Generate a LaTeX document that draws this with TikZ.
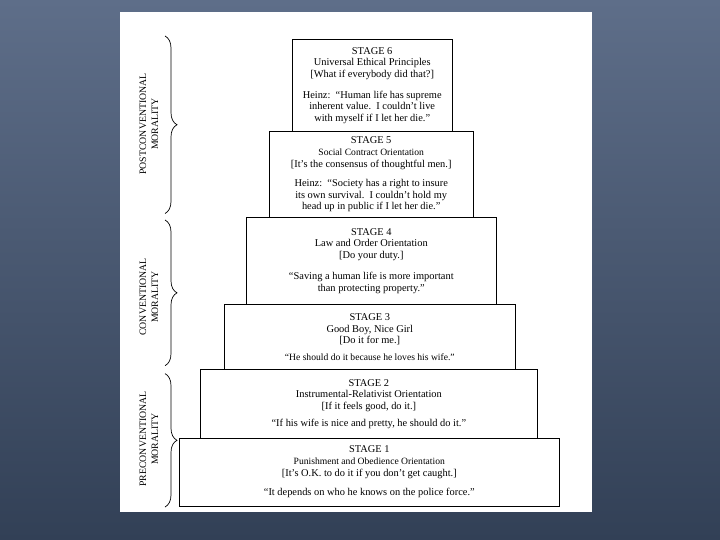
\documentclass[tikz,border=0pt]{standalone}
\usepackage{fontspec}
\setmainfont{Liberation Serif}
\usetikzlibrary{decorations.pathreplacing}
\definecolor{bgtop}{RGB}{94,110,137}
\definecolor{bgbot}{RGB}{50,64,86}
\newcommand{\smallline}{\fontsize{9.6}{11.6}\selectfont}
\begin{document}
\begin{tikzpicture}[x=1pt,y=-1pt,
  stagebox/.style={draw=black, line width=0.9pt, fill=white, align=center, inner sep=0pt,
    font=\fontsize{10.4}{11.6}\selectfont},
  moralbrace/.style={decorate, decoration={brace, amplitude=12pt}, line width=0.7pt},
  morallabel/.style={rotate=90, align=center, font=\fontsize{9.8}{12}\selectfont}]
\useasboundingbox (0,0) rectangle (720,540);
\shade[top color=bgtop, bottom color=bgbot] (0,0) rectangle (720,540);
\fill[white] (120,12) rectangle (592,512);

\node[stagebox, minimum width=159.5pt, minimum height=92pt] (s6) at (372.2,85.5)
  {STAGE 6\\ Universal Ethical Principles\\ {[What if everybody did that?]}\\[9pt]
   Heinz:\ \ “Human life has supreme\\ inherent value.\ \ I couldn’t live\\ with myself if I let her die.”};
\node[stagebox, minimum width=203.5pt, minimum height=86pt] (s5) at (371.2,174.5)
  {STAGE 5\\ {\smallline Social Contract Orientation}\\ {[It’s the consensus of thoughtful men.]}\\[8pt]
   Heinz:\ \ “Society has a right to insure\\ its own survival.\ \ I couldn’t hold my\\ head up in public if I let her die.”};
\node[stagebox, minimum width=249.4pt, minimum height=86.8pt] (s4) at (371.3,261)
  {STAGE 4\\ Law and Order Orientation\\ {[Do your duty.]}\\[10pt]
   “Saving a human life is more important\\ than protecting property.”};
\node[stagebox, minimum width=291.6pt, minimum height=65.4pt] (s3) at (369.8,337.1)
  {STAGE 3\\ Good Boy, Nice Girl\\ {[Do it for me.]}\\[5pt]
   {\smallline “He should do it because he loves his wife.”}};
\node[stagebox, minimum width=336.6pt, minimum height=68.2pt] (s2) at (368.9,403.9)
  {STAGE 2\\ Instrumental-Relativist Orientation\\ {[If it feels good, do it.]}\\[5pt]
   “If his wife is nice and pretty, he should do it.”};
\node[stagebox, minimum width=380.7pt, minimum height=68pt] (s1) at (369.3,472)
  {STAGE 1\\ {\smallline Punishment and Obedience Orientation}\\ {[It’s O.K. to do it if you don’t get caught.]}\\[8pt]
   “It depends on who he knows on the police force.”};

\coordinate (postTop) at (165,36);
\coordinate (postBot) at (165,213.5);
\coordinate (convTop) at (165,220);
\coordinate (convBot) at (165,365.7);
\coordinate (preTop) at (165,373.6);
\coordinate (preBot) at (165,507);
\draw[moralbrace] (postTop) -- (postBot);
\draw[moralbrace] (convTop) -- (convBot);
\draw[moralbrace] (preTop) -- (preBot);

\node[morallabel] (postLabel) at (149,124) {POSTCONVENTIONAL\\MORALITY};
\node[morallabel] (convLabel) at (149,297) {CONVENTIONAL\\MORALITY};
\node[morallabel] (preLabel) at (149,439) {PRECONVENTIONAL\\MORALITY};
\end{tikzpicture}
\end{document}
